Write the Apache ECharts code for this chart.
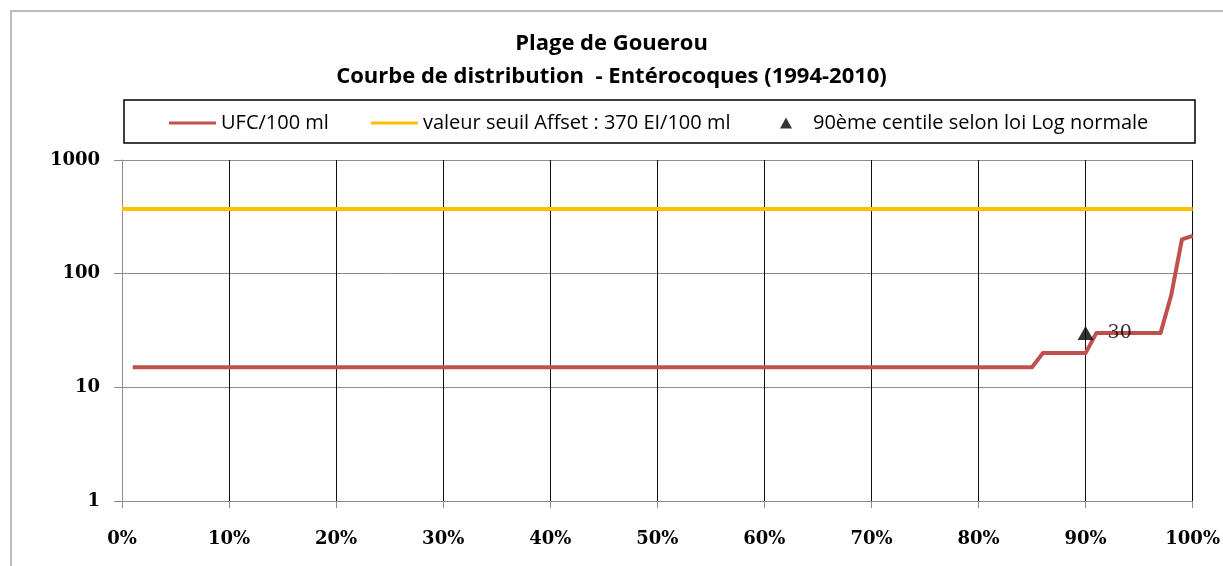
<!DOCTYPE html>
<html>
<head>
<meta charset="utf-8">
<script src="https://cdn.jsdelivr.net/npm/echarts@6/dist/echarts.min.js"></script>
<style>
html,body{margin:0;padding:0;background:#fff;}
#chart{width:1223px;height:566px;}
</style>
</head>
<body>
<div id="chart"></div>
<script>
// ---- data ----
var titleLines = ['Plage de Gouerou', 'Courbe de distribution  - Entérocoques (1994-2010)'];
var seriesNames = ['UFC/100 ml', 'valeur seuil Affset : 370 EI/100 ml', '90ème centile selon loi Log normale'];
var percentiles = [1,2,3,4,5,6,7,8,9,10,11,12,13,14,15,16,17,18,19,20,21,22,23,24,25,26,27,28,29,30,31,32,33,34,35,36,37,38,39,40,41,42,43,44,45,46,47,48,49,50,51,52,53,54,55,56,57,58,59,60,61,62,63,64,65,66,67,68,69,70,71,72,73,74,75,76,77,78,79,80,81,82,83,84,85,86,87,88,89,90,91,92,93,94,95,96,97,98,99,100];
var ufcValues = [15,15,15,15,15,15,15,15,15,15,15,15,15,15,15,15,15,15,15,15,15,15,15,15,15,15,15,15,15,15,15,15,15,15,15,15,15,15,15,15,15,15,15,15,15,15,15,15,15,15,15,15,15,15,15,15,15,15,15,15,15,15,15,15,15,15,15,15,15,15,15,15,15,15,15,15,15,15,15,15,15,15,15,15,15,20,20,20,20,20,30,30,30,30,30,30,30,65,200,215];
var thresholdX = [0, 100];
var thresholdValue = [370, 370];
var centileX = [90];
var centileValue = [30];
var xTicks = [0,10,20,30,40,50,60,70,80,90,100];
var yTicks = [1,10,100,1000];

var ufcData = percentiles.map(function(p,i){return [p, ufcValues[i]];});
var thrData = thresholdX.map(function(p,i){return [p, thresholdValue[i]];});
var cenData = centileX.map(function(p,i){return [p, centileValue[i]];});

var serifFont = '"DejaVu Serif"';
var sansFont = '"Open Sans"';

var chart = echarts.init(document.getElementById('chart'), null, {renderer:'canvas'});
var xSplitColors = xTicks.map(function(t,i){ return i === 0 ? '#8c8c8c' : '#111111'; });

chart.setOption({
  animation: false,
  backgroundColor: '#fff',
  title: {
    text: titleLines.join('\n'),
    left: 'center',
    top: 22,
    textStyle: {fontFamily: sansFont, fontWeight: 'bold', fontSize: 22, lineHeight: 33, color: '#000'}
  },
  graphic: [
    {type:'rect', shape:{x:11, y:11, width:1300, height:700}, style:{fill:'none', stroke:'#a6a6a6', lineWidth:1.5}, silent:true, z:-1},
    {type:'rect', shape:{x:124, y:100, width:1071, height:43}, style:{fill:'none', stroke:'#000', lineWidth:1.5}, silent:true}
  ],
  legend: [
    {
      data: [{name: seriesNames[0], icon: 'rect'}, {name: seriesNames[1], icon: 'rect'}],
      left: 164, top: 108,
      itemWidth: 47, itemHeight: 3, itemGap: 42,
      textStyle: {fontFamily: sansFont, fontSize: 20, color: '#000'}
    },
    {
      data: [{name: seriesNames[2], icon: 'triangle'}],
      left: 775, top: 108,
      itemWidth: 12, itemHeight: 11,
      formatter: function(n){ return '{a|' + n + '}'; },
      textStyle: {fontFamily: sansFont, fontSize: 20, color: '#000',
        rich: {a: {fontFamily: sansFont, fontSize: 20, color: '#000', padding: [0,0,0,16]}}}
    }
  ],
  grid: {left: 122, right: 30, top: 160, bottom: 65, containLabel: false},
  xAxis: {
    type: 'value', min: 0, max: 100, interval: 10,
    axisLine: {show: true, lineStyle: {color: '#8c8c8c', width: 1}},
    axisTick: {show: true, length: 7, lineStyle: {color: '#8c8c8c'}},
    axisLabel: {formatter: '{value}%', margin: 29, fontFamily: serifFont, fontSize: 18, fontWeight: 'bold', color: '#000'},
    splitLine: {show: true, lineStyle: {color: xSplitColors, width: 1}}
  },
  yAxis: {
    type: 'log', logBase: 10, min: 1, max: 1000,
    axisLine: {show: true, lineStyle: {color: '#8c8c8c', width: 1}},
    axisTick: {show: true, length: 8, lineStyle: {color: '#8c8c8c'}},
    axisLabel: {margin: 22, fontFamily: serifFont, fontSize: 18, fontWeight: 'bold', color: '#000',
      formatter: function(v){ return String(Math.round(v)); }},
    splitLine: {show: true, lineStyle: {color: '#8c8c8c', width: 1}}
  },
  series: [
    {
      name: seriesNames[0], type: 'line', data: ufcData,
      symbol: 'none', lineStyle: {color: '#C0504D', width: 4, join: 'round'},
      itemStyle: {color: '#C0504D'}, z: 3
    },
    {
      name: seriesNames[1], type: 'line', data: thrData,
      symbol: 'none', lineStyle: {color: '#FFC000', width: 4},
      itemStyle: {color: '#FFC000'}, z: 2
    },
    {
      name: seriesNames[2], type: 'scatter', data: cenData,
      symbol: 'triangle', symbolSize: [16, 14],
      itemStyle: {color: '#000'},
      label: {show: true, position: 'right', distance: 14, formatter: function(p){return p.value[1];},
              fontFamily: serifFont, fontSize: 19, color: '#000'},
      z: 4
    }
  ]
});
</script>
</body>
</html>
